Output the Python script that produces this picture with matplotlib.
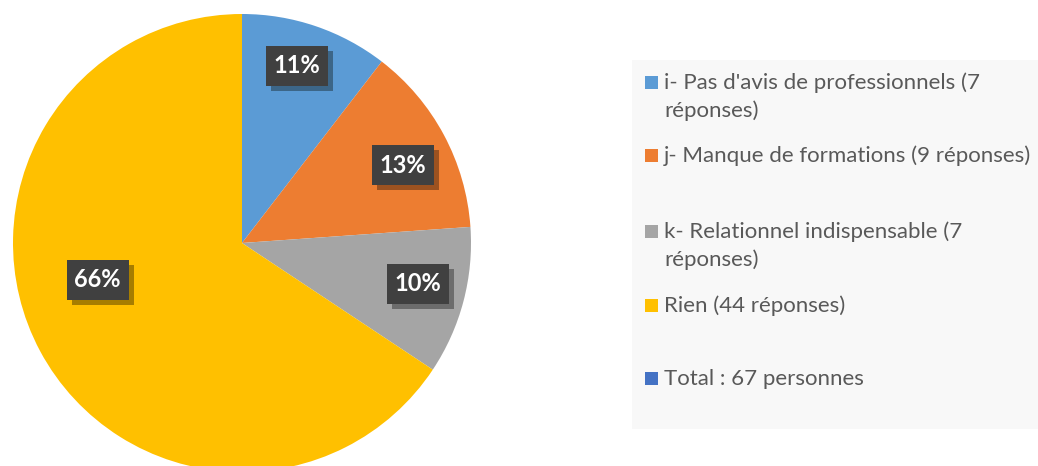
import matplotlib
matplotlib.use("Agg")
import matplotlib.pyplot as plt
from matplotlib.patches import Rectangle
import numpy as np

# Survey answers
categories = [
    "i- Pas d'avis de professionnels (7\nréponses)",
    "j- Manque de formations (9 réponses)",
    "k- Relationnel indispensable (7\nréponses)",
    "Rien (44 réponses)",
]
responses = [7, 9, 7, 44]
pct_labels = ["11%", "13%", "10%", "66%"]
total_label = "Total : 67 personnes"

colors = ["#5B9BD5", "#ED7D31", "#A5A5A5", "#FFC000"]
shadow_colors = ["#3C6688", "#9C5220", "#6C6C6C", "#A67D00"]
total_color = "#4472C4"

W, H = 1038, 466
fig = plt.figure(figsize=(W / 100, H / 100), dpi=100)
fig.patch.set_facecolor("white")

# Pie axes: centre (242, 243) px, radius 229 px
cx, cy, r = 242, 243, 229
ax = fig.add_axes([(cx - r) / W, (H - cy - r) / H, 2 * r / W, 2 * r / H])
wedges, _ = ax.pie(responses, colors=colors, startangle=90, counterclock=False,
                   radius=1.0, wedgeprops=dict(linewidth=0))
ax.set_xlim(-1, 1)
ax.set_ylim(-1, 1)
ax.set_aspect("equal", adjustable="datalim")
ax.axis("off")

angle_shift = [1.6, -2.4, 1.7, -14.0]
label_dist = [0.81, 0.78, 0.79, 0.65]
px = 1.0 / r
box_w, box_h = 62 * px, 40 * px
sh = 5 * px
for w, s, d, lab, scol in zip(wedges, angle_shift, label_dist, pct_labels, shadow_colors):
    a = np.deg2rad((w.theta1 + w.theta2) / 2 + s)
    x, y = d * np.cos(a), d * np.sin(a)
    ax.add_patch(Rectangle((x - box_w / 2 + sh, y - box_h / 2 - sh), box_w, box_h,
                           facecolor=scol, edgecolor="none", zorder=3))
    ax.add_patch(Rectangle((x - box_w / 2, y - box_h / 2), box_w, box_h,
                           facecolor="#404040", edgecolor="none", zorder=4))
    ax.text(x, y, lab, ha="center", va="center", color="white", fontsize=17,
            fontweight="bold", family="Lato", zorder=5)

# Legend panel drawn in pixel coordinates
lax = fig.add_axes([0, 0, 1, 1])
lax.set_xlim(0, W)
lax.set_ylim(H, 0)
lax.axis("off")
lax.patch.set_alpha(0)
lax.add_patch(Rectangle((632, 60), 420, 369, facecolor="#F8F8F8", edgecolor="none"))

entries = categories + [total_label]
entry_colors = colors + [total_color]
baselines = [89, 162, 238, 312, 385]
line_step = 28
for text, col, base in zip(entries, entry_colors, baselines):
    lax.add_patch(Rectangle((645, base - 13), 12.5, 12.5, facecolor=col, edgecolor="none"))
    for k, line in enumerate(text.split("\n")):
        lax.text(664, base + k * line_step, line, ha="left", va="baseline",
                 color="#595959", fontsize=16, family="Lato")

fig.savefig("out.png", dpi=100)
